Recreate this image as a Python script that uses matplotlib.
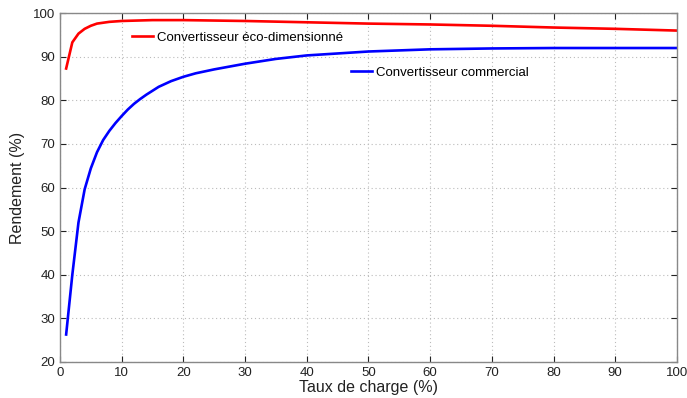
import matplotlib
matplotlib.use("Agg")
import matplotlib.pyplot as plt

plt.rcParams['font.family'] = ['Liberation Sans', 'DejaVu Sans']

# Taux de charge (%) and rendement (%)
charge_eco = [1, 2, 3, 4, 5, 6, 8, 10, 15, 20, 30, 40, 50, 60, 70, 80, 90, 100]
rend_eco = [87.3, 93.3, 95.3, 96.4, 97.1, 97.6, 98.0, 98.2, 98.4, 98.4,
            98.2, 97.9, 97.6, 97.4, 97.1, 96.7, 96.4, 96.0]

charge_com = [1, 2, 3, 4, 5, 6, 7, 8, 9, 10, 11, 12, 13, 14, 16, 18, 20, 22,
              25, 30, 35, 40, 50, 60, 70, 80, 90, 100]
rend_com = [26.3, 40.0, 52.0, 59.6, 64.4, 68.1, 70.9, 73.0, 74.8, 76.4, 77.9,
            79.2, 80.3, 81.3, 83.1, 84.4, 85.4, 86.2, 87.1, 88.4, 89.5, 90.3,
            91.2, 91.7, 91.9, 92.0, 92.0, 92.0]

label_eco = "Convertisseur éco-dimensionné"
label_com = "Convertisseur commercial"

fig = plt.figure(figsize=(6.87, 3.98), dpi=100)
ax = fig.add_axes([0.0873, 0.0905, 0.898, 0.8765])

l1, = ax.plot(charge_eco, rend_eco, color='#ff0000', lw=1.9, label=label_eco)
l2, = ax.plot(charge_com, rend_com, color='#0000ff', lw=1.9, label=label_com)

ax.set_xlim(0, 100)
ax.set_ylim(20, 100)
ax.set_xticks(range(0, 101, 10))
ax.set_yticks(range(20, 101, 10))
ax.tick_params(direction='in', top=True, right=True, labelsize=9.5,
               colors='#222222', length=4, width=0.8)
for s in ax.spines.values():
    s.set_color('#888888')
    s.set_linewidth(1.0)
ax.grid(True, linestyle=(0, (1, 2.5)), color='#bbbbbb', linewidth=0.8)

ax.set_xlabel("Taux de charge (%)", fontsize=11.5, color='#222222', labelpad=1)
ax.set_ylabel("Rendement (%)", fontsize=11.5, color='#222222', labelpad=6)

leg1 = ax.legend(handles=[l1], loc='center left', bbox_to_anchor=(0.116, 0.93),
                 frameon=False, fontsize=9.5, handlelength=1.6, handletextpad=0.3,
                 borderaxespad=0, borderpad=0)
ax.add_artist(leg1)
ax.legend(handles=[l2], loc='center left', bbox_to_anchor=(0.472, 0.83),
          frameon=False, fontsize=9.5, handlelength=1.6, handletextpad=0.3,
          borderaxespad=0, borderpad=0)

fig.savefig("out.png", dpi=100)
